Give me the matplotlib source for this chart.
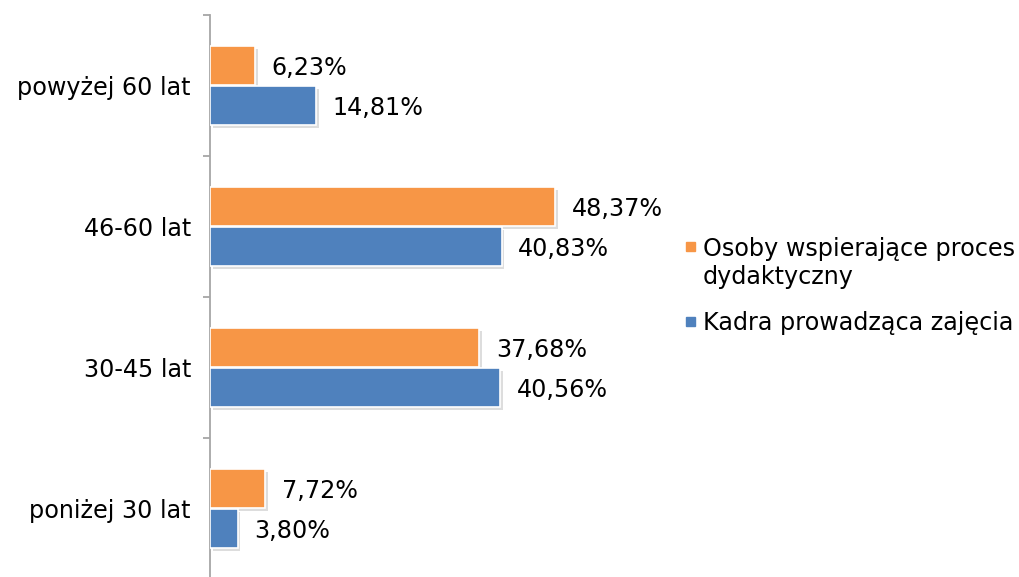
import matplotlib
matplotlib.use("Agg")
import matplotlib.pyplot as plt
import matplotlib.patheffects as pe
import numpy as np
from matplotlib.patches import Rectangle

categories = ["poniżej 30 lat", "30-45 lat", "46-60 lat", "powyżej 60 lat"]
support_staff = [7.72, 37.68, 48.37, 6.23]   # Osoby wspierające proces dydaktyczny
teaching_staff = [3.80, 40.56, 40.83, 14.81]  # Kadra prowadząca zajęcia
series_names = ["Osoby wspierające proces\ndydaktyczny", "Kadra prowadząca zajęcia"]

ORANGE = "#F79646"
BLUE = "#4F81BD"
AXIS_GRAY = "#A6A6A6"
FS = 17.2

plt.rcParams["font.family"] = ["DejaVu Sans"]

fig = plt.figure(figsize=(10.19, 5.77), dpi=100)
ax = fig.add_axes([0.2065, -0.0035, 0.42, 0.9775])

y = np.arange(len(categories))
h = 0.28
off = 0.142
shadow = [pe.SimplePatchShadow(offset=(2, -2), shadow_rgbFace="#909090", alpha=0.3), pe.Normal()]

bars_o = ax.barh(y + off, support_staff, height=h, color=ORANGE, edgecolor="white",
                 linewidth=1.2, zorder=3)
bars_b = ax.barh(y - off, teaching_staff, height=h, color=BLUE, edgecolor="white",
                 linewidth=1.2, zorder=3)
for b in list(bars_o) + list(bars_b):
    b.set_path_effects(shadow)

def fmt(v):
    return f"{v:.2f}".replace(".", ",") + "%"

for bars, vals in ((bars_o, support_staff), (bars_b, teaching_staff)):
    for b, v in zip(bars, vals):
        ax.annotate(fmt(v), (v, b.get_y() + b.get_height() / 2), xytext=(12, -2),
                    textcoords="offset points", va="center", ha="left",
                    fontsize=FS, color="black")

ax.set_xlim(0, 60)
ax.set_ylim(-0.5, len(categories) - 0.5)

for s in ("top", "right", "bottom"):
    ax.spines[s].set_visible(False)
ax.spines["left"].set_color(AXIS_GRAY)
ax.spines["left"].set_linewidth(1.3)
ax.set_xticks([])

ax.set_yticks(np.arange(-0.5, len(categories)))
ax.set_yticklabels([])
ax.set_yticks(y, minor=True)
ax.set_yticklabels(categories, minor=True, fontsize=FS)
ax.tick_params(axis="y", which="major", length=5, width=1.3, color=AXIS_GRAY)
ax.tick_params(axis="y", which="minor", length=0, pad=14)

# legend drawn by hand so the marker sits beside the first line of a wrapped label;
# text y is the baseline of the label's last line
W, H = fig.get_size_inches() * fig.dpi
legend_rows = [(ORANGE, series_names[0], 246.5, 284), (BLUE, series_names[1], 321.5, 330)]
for color, label, yc, base in legend_rows:
    sq = 9
    fig.add_artist(Rectangle((686 / W, 1 - (yc + sq / 2) / H), sq / W, sq / H,
                             transform=fig.transFigure, color=color))
    fig.text(703 / W, 1 - base / H, label, fontsize=FS, va="baseline", ha="left",
             linespacing=1.22)

fig.savefig("out.png", dpi=100)
